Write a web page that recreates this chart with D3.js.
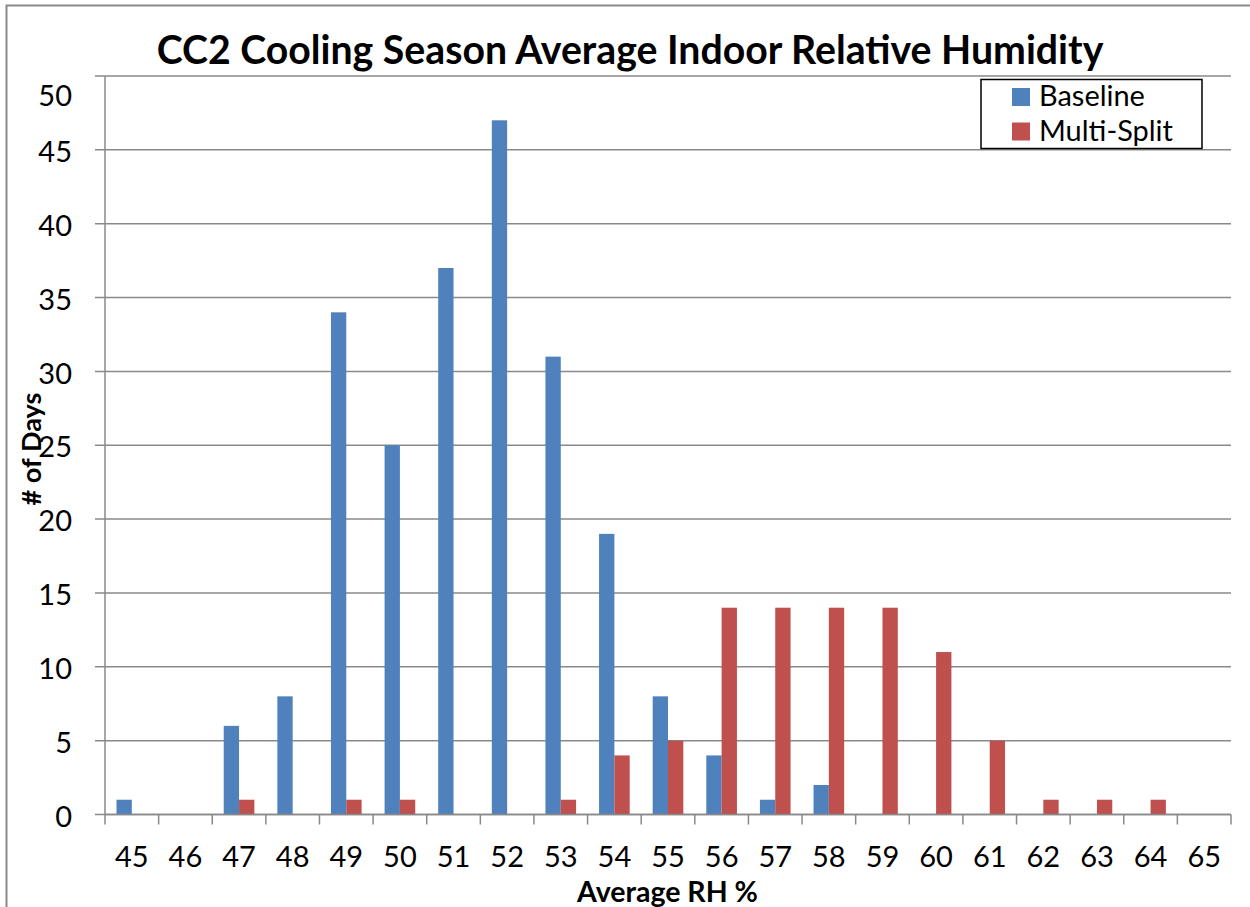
<!DOCTYPE html>
<html>
<head>
<meta charset="utf-8">
<script src="https://cdn.jsdelivr.net/npm/d3@7"></script>
<style>
  html, body { margin: 0; padding: 0; background: #fff; }
  svg { display: block; font-family: Lato, "Open Sans", sans-serif; }
</style>
</head>
<body>
<svg id="chart" width="1250" height="907"></svg>
<script>
// ---- data ----
const categories = ["45","46","47","48","49","50","51","52","53","54","55","56","57","58","59","60","61","62","63","64","65"];
const seriesNames = ["Baseline", "Multi-Split"];
const baselineValues = [1,0,6,8,34,25,37,47,31,19,8,4,1,2,0,0,0,0,0,0,0];
const multiSplitValues = [0,0,1,0,1,1,0,0,1,4,5,14,14,14,14,11,5,1,1,1,0];
const yTicks = [0,5,10,15,20,25,30,35,40,45,50];
const titleText = "CC2 Cooling Season Average Indoor Relative Humidity";
const xTitleText = "Average RH %";
const yTitleText = "# of Days";
const colors = ["#4F81BD", "#C0504D"];

// ---- layout ----
const W = 1250, H = 907;
const pLeft = 105, pRight = 1231, pTop = 76, pBottom = 814.5;
const gridColor = "#898989";
const tickFont = 29;

const svg = d3.select("#chart");

// outer chart border
svg.append("rect")
  .attr("x", 6.5).attr("y", 5.5)
  .attr("width", W + 50).attr("height", H + 50)
  .attr("fill", "#fff")
  .attr("stroke", gridColor).attr("stroke-width", 2);

const x = d3.scaleBand().domain(categories).range([pLeft, pRight]).padding(0);
const xs = d3.scaleBand().domain(seriesNames).range([0, x.bandwidth()])
  .paddingInner(0).paddingOuter(0.75);
const y = d3.scaleLinear().domain([0, 50]).range([pBottom, pTop]);

// gridlines
svg.append("g").selectAll("line").data(yTicks).join("line")
  .attr("x1", pLeft - 10).attr("x2", pRight)
  .attr("y1", d => y(d)).attr("y2", d => y(d))
  .attr("stroke", gridColor).attr("stroke-width", 1.5);

// y axis line
svg.append("line")
  .attr("x1", pLeft).attr("x2", pLeft)
  .attr("y1", pTop).attr("y2", pBottom)
  .attr("stroke", gridColor).attr("stroke-width", 1.5);

// y axis labels
const yAxis = d3.axisLeft(y).tickValues(yTicks).tickSize(0).tickPadding(33);
const gy = svg.append("g").attr("transform", `translate(${pLeft},0)`).call(yAxis);
gy.select(".domain").remove();
gy.selectAll("text")
  .attr("font-family", "Lato, 'Open Sans', sans-serif")
  .attr("font-size", tickFont).attr("fill", "#000")
  .attr("dy", d => d === 50 ? "1.0em" : "0.4em");

// bars
const data = categories.map((c, i) => ({ c, vals: [baselineValues[i], multiSplitValues[i]] }));
const groups = svg.append("g").selectAll("g").data(data).join("g")
  .attr("transform", d => `translate(${x(d.c)},0)`);
groups.selectAll("rect")
  .data(d => d.vals.map((v, j) => ({ s: seriesNames[j], v, j })))
  .join("rect")
  .attr("x", d => xs(d.s))
  .attr("width", xs.bandwidth())
  .attr("y", d => y(d.v))
  .attr("height", d => y(0) - y(d.v))
  .attr("fill", d => colors[d.j]);

// x axis line (redraw over bars)
svg.append("line")
  .attr("x1", pLeft).attr("x2", pRight)
  .attr("y1", pBottom).attr("y2", pBottom)
  .attr("stroke", gridColor).attr("stroke-width", 1.5);

// x category ticks at band edges
const edges = categories.map(c => x(c)).concat([x(categories[categories.length - 1]) + x.bandwidth()]);
svg.append("g").selectAll("line").data(edges).join("line")
  .attr("x1", d => d).attr("x2", d => d)
  .attr("y1", pBottom).attr("y2", pBottom + 10)
  .attr("stroke", gridColor).attr("stroke-width", 1.5);

// x labels
const xAxis = d3.axisBottom(x).tickSize(0).tickPadding(0);
const gx = svg.append("g").attr("transform", `translate(0,${pBottom})`).call(xAxis);
gx.select(".domain").remove();
gx.selectAll("text")
  .attr("font-family", "Lato, 'Open Sans', sans-serif")
  .attr("font-size", tickFont).attr("fill", "#000")
  .attr("y", 52).attr("dy", 0);

function fitWidth(sel, target) {
  const fs = parseFloat(sel.attr("font-size"));
  const w = sel.node().getComputedTextLength();
  sel.attr("font-size", fs * target / w);
}

// title
const title = svg.append("text")
  .attr("x", 630).attr("y", 64)
  .attr("text-anchor", "middle")
  .attr("font-weight", "bold")
  .attr("font-size", 35)
  .attr("fill", "#000")
  .text(titleText);
fitWidth(title, 947);

// x title
const xt = svg.append("text")
  .attr("x", 667.5).attr("y", 902)
  .attr("text-anchor", "middle")
  .attr("font-weight", "bold")
  .attr("font-size", 27)
  .attr("fill", "#000")
  .text(xTitleText);
fitWidth(xt, 181);

// y title
const yt = svg.append("text")
  .attr("transform", "translate(41,449) rotate(-90)")
  .attr("text-anchor", "middle")
  .attr("font-weight", "bold")
  .attr("font-size", 27)
  .attr("fill", "#000")
  .text(yTitleText);
fitWidth(yt, 113);

// legend
const lg = svg.append("g");
lg.append("rect")
  .attr("x", 981).attr("y", 79.5)
  .attr("width", 221).attr("height", 69)
  .attr("fill", "#fff").attr("stroke", "#000").attr("stroke-width", 1.5);
const legendRows = seriesNames.map((s, i) => ({ s, i }));
const rowY = [106, 140.5];
lg.selectAll("rect.sw").data(legendRows).join("rect")
  .attr("class", "sw")
  .attr("x", 1012).attr("y", d => rowY[d.i] - 18)
  .attr("width", 18).attr("height", 18)
  .attr("fill", d => colors[d.i]);
const lt = lg.selectAll("text").data(legendRows).join("text")
  .attr("x", 1039).attr("y", d => rowY[d.i])
  .attr("font-size", 27).attr("fill", "#000")
  .text(d => d.s);
// size legend text so "Multi-Split" matches the reference width
const lfs = 27 * 134 / lt.filter(d => d.i === 1).node().getComputedTextLength();
lt.attr("font-size", lfs);
</script>
</body>
</html>
